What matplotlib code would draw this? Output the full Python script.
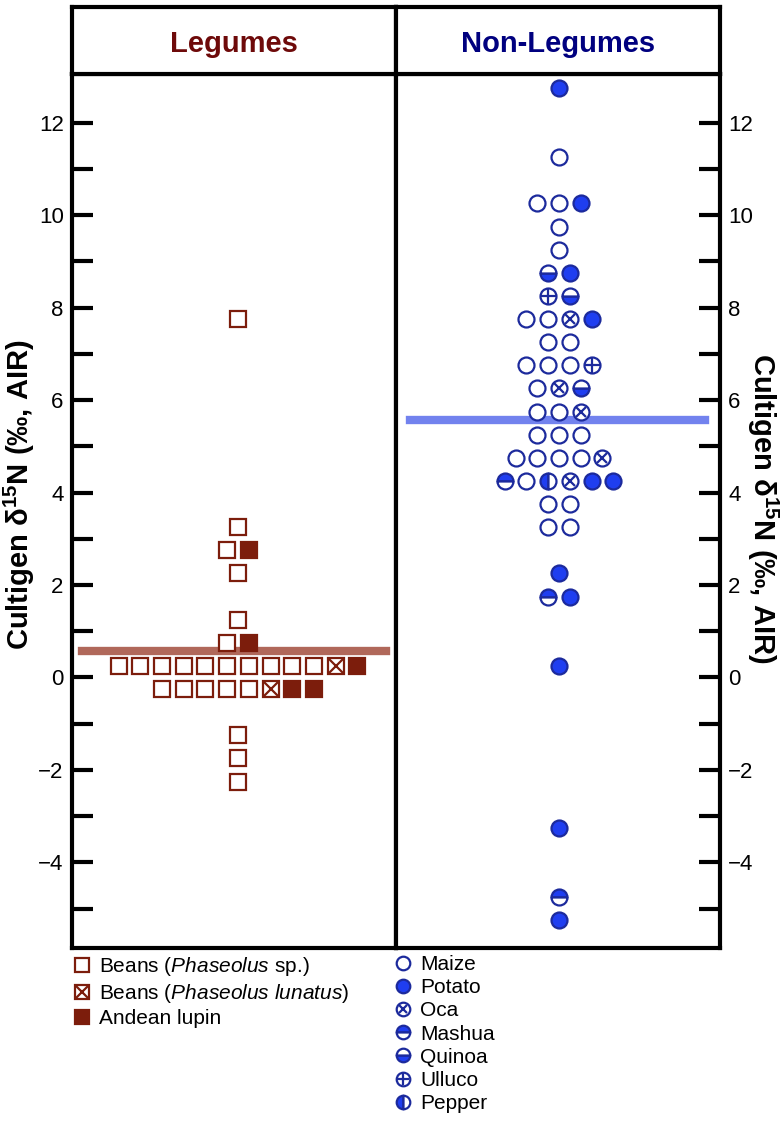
import numpy as np
import matplotlib.pyplot as plt
from matplotlib.ticker import FixedLocator, FuncFormatter

plt.rcParams['font.family'] = ['Liberation Sans', 'DejaVu Sans']
plt.rcParams['mathtext.fontset'] = 'custom'
plt.rcParams['mathtext.rm'] = 'Liberation Sans'
plt.rcParams['mathtext.it'] = 'Liberation Sans:italic'
plt.rcParams['mathtext.bf'] = 'Liberation Sans:bold'

# Data ------------------------------------------------------------
# one entry per row of the dot plot: value and the kinds of sample in it
leg_values = [7.75, 3.25, 2.75, 2.25, 1.25, 0.75, 0.25, -0.25, -1.25, -1.75, -2.25]
leg_rows = ['B', 'B', 'BL', 'B', 'B', 'BL', 'BBBBBBBBBBXL', 'BBBBBXLL', 'B', 'B', 'B']
leg_mean = 0.58

nl_values = [12.75, 11.25, 10.25, 9.75, 9.25, 8.75, 8.25, 7.75, 7.25, 6.75, 6.25,
             5.75, 5.25, 4.75, 4.25, 3.75, 3.25, 2.25, 1.75, 0.25, -3.25, -4.75, -5.25]
nl_rows = ['P', 'M', 'MMP', 'M', 'M', 'QP', 'UQ', 'MMOP', 'MM', 'MMMU', 'MOQ',
           'MMO', 'MMM', 'MMMMO', 'SMEOPP', 'MM', 'MM', 'P', 'SP', 'P', 'P', 'S', 'P']
nl_mean = 5.57

leg_codes = ['B', 'X', 'L']
leg_labels = ['Beans ($\\it{Phaseolus}$ sp.)', 'Beans ($\\it{Phaseolus\\ lunatus}$)', 'Andean lupin']
nl_codes = ['M', 'P', 'O', 'S', 'Q', 'U', 'E']
nl_labels = ['Maize', 'Potato', 'Oca', 'Mashua', 'Quinoa', 'Ulluco', 'Pepper']

# colours
RED = '#7c1d0c'
RED_LINE = '#b0685a'
NAVY = '#1c2a9c'
BLUE = '#1f3ef0'
BLUE_LINE = '#7282ee'


def layout(values, rows):
    pts = {}
    for v, r in zip(values, rows):
        n = len(r)
        for i, c in enumerate(r):
            pts.setdefault(c, ([], []))
            pts[c][0].append(i - (n - 1) / 2.0)
            pts[c][1].append(v)
    return pts


fig = plt.figure(figsize=(7.84, 11.33), dpi=100)
W, H = 784.0, 1133.0
x0, xm, x1 = 72 / W, 396 / W, 720 / W
yb, yt, yh = 1 - 948 / H, 1 - 74 / H, 1 - 7 / H

ax1 = fig.add_axes([x0, yb, xm - x0, yt - yb])
ax2 = fig.add_axes([xm, yb, x1 - xm, yt - yb], sharey=ax1)
h1 = fig.add_axes([x0, yt, xm - x0, yh - yt])
h2 = fig.add_axes([xm, yt, x1 - xm, yh - yt])

LW = 3
for a in (ax1, ax2, h1, h2):
    for s in a.spines.values():
        s.set_linewidth(LW)
for a in (h1, h2):
    a.set_xticks([]); a.set_yticks([])

h1.text(0.5, 0.45, 'Legumes', color='#6e0a0a', fontsize=21, fontweight='bold',
        ha='center', va='center')
h2.text(0.5, 0.45, 'Non-Legumes', color='#00007f', fontsize=21, fontweight='bold',
        ha='center', va='center')

# Legumes ---------------------------------------------------------
SMS = 11.5
pts = layout(leg_values, leg_rows)
handles1 = []
for c in leg_codes:
    xs, ys = pts[c]
    if c == 'L':
        l = ax1.plot(xs, ys, 's', ms=SMS, mfc=RED, mec=RED, mew=1.6, zorder=3)[0]
        handles1.append(l)
    else:
        l = ax1.plot(xs, ys, 's', ms=SMS, mfc='white', mec=RED, mew=1.6, zorder=3)[0]
        if c == 'X':
            o = ax1.plot(xs, ys, 'x', ms=SMS * 0.9, mec=RED, mew=1.6, zorder=4)[0]
            handles1.append((l, o))
        else:
            handles1.append(l)
ax1.axhline(leg_mean, 0.031, 0.969, color=RED_LINE, lw=6, zorder=2)

# Non-legumes -----------------------------------------------------
CMS = 11.5
pts = layout(nl_values, nl_rows)
handles2 = []
for c in nl_codes:
    xs, ys = pts[c]
    base = dict(marker='o', ls='none', ms=CMS, mec=NAVY, mew=1.6, zorder=3)
    if c == 'M':
        l = ax2.plot(xs, ys, mfc='white', **base)[0]
    elif c == 'P':
        l = ax2.plot(xs, ys, mfc=BLUE, **base)[0]
    elif c in 'SQE':
        fs = {'S': 'top', 'Q': 'bottom', 'E': 'left'}[c]
        l = ax2.plot(xs, ys, mfc=BLUE, fillstyle=fs, markerfacecoloralt='white', **base)[0]
    else:
        l = ax2.plot(xs, ys, mfc='white', **base)[0]
        mk = 'x' if c == 'O' else '+'
        sz = CMS * 0.62 if c == 'O' else CMS * 0.95
        o = ax2.plot(xs, ys, mk, ms=sz, mec=NAVY, mew=1.6, zorder=4)[0]
        l = (l, o)
    handles2.append(l)
ax2.axhline(nl_mean, 0.043, 0.954, color=BLUE_LINE, lw=6, zorder=2)

# Axes ------------------------------------------------------------
ax1.set_xlim(-7.65, 7.28)
ax2.set_xlim(-7.51, 7.42)
ax1.set_ylim(-5.85, 13.05)

fmt = FuncFormatter(lambda v, p: ('%d' % v).replace('-', '\u2212'))
for a, side in ((ax1, 'left'), (ax2, 'right')):
    a.set_xticks([])
    a.yaxis.set_major_locator(FixedLocator(np.arange(-4, 13, 2)))
    a.yaxis.set_minor_locator(FixedLocator(np.arange(-5, 13, 2)))
    a.yaxis.set_major_formatter(fmt)
    a.tick_params(axis='y', which='both', direction='in', length=15, width=LW,
                  left=(side == 'left'), right=(side == 'right'),
                  labelleft=(side == 'left'), labelright=(side == 'right'),
                  labelsize=16, pad=6)

ylab = 'Cultigen \u03b4$^{\\mathbf{15}}$N (\u2030, AIR)'
fig.text(19 / W, 1 - 495 / H, ylab, rotation=90, ha='center', va='center',
         fontsize=21, fontweight='bold')
fig.text(763 / W, 1 - 508 / H, ylab, rotation=270, ha='center', va='center',
         fontsize=21, fontweight='bold')

# Legends ---------------------------------------------------------
leg_kw = dict(loc='upper left', frameon=False, fontsize=15, markerscale=0.85,
              handlelength=0.75, handletextpad=0.45, labelspacing=0.2,
              borderpad=0, borderaxespad=0)
fig.legend(handles1, leg_labels, bbox_to_anchor=(74 / W, 1 - 955 / H), **leg_kw)
fig.legend(handles2, nl_labels, bbox_to_anchor=(395 / W, 1 - 955 / H), **leg_kw)

plt.savefig('out.png', dpi=100)
